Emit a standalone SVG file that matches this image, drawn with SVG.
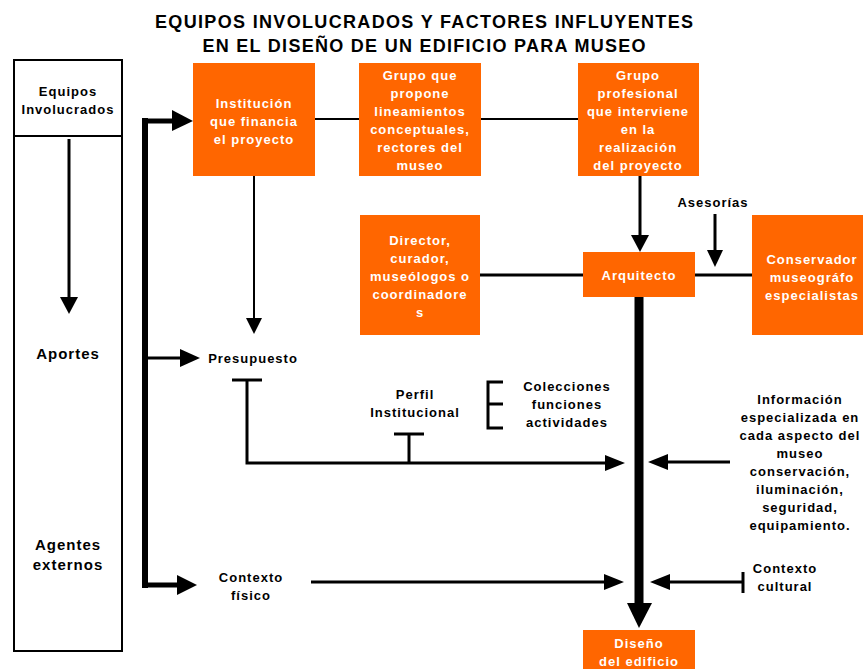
<svg xmlns="http://www.w3.org/2000/svg" width="863" height="669" viewBox="0 0 863 669">
<style>
.t{font-family:"Liberation Sans",Arial,sans-serif;font-weight:bold;font-size:13px;letter-spacing:1px;text-anchor:middle;fill:#000}
.big{font-size:15px}
.w{fill:#fff}
.title{font-family:"Liberation Sans",Arial,sans-serif;font-weight:bold;font-size:18px;text-anchor:middle;fill:#000}
.box{fill:#ff6600}
.ln{stroke:#000;fill:none}
.ah{fill:#000}
</style>
<rect width="863" height="669" fill="#fff"/>
<g id="title">
<text class="title" x="424" y="28" textLength="538" lengthAdjust="spacing">EQUIPOS INVOLUCRADOS Y FACTORES INFLUYENTES</text>
<text class="title" x="424" y="52" textLength="443" lengthAdjust="spacing">EN EL DISEÑO DE UN EDIFICIO PARA MUSEO</text>
</g>
<g id="left-panel">
<rect x="14" y="60" width="108" height="591" fill="#fff" stroke="#000" stroke-width="2"/>
<line x1="14" y1="136" x2="122" y2="136" stroke="#000" stroke-width="2"/>
<text class="t" x="68" y="96">Equipos</text>
<text class="t" x="68" y="114">Involucrados</text>
<text class="t big" x="68" y="359">Aportes</text>
<text class="t big" x="68" y="550">Agentes</text>
<text class="t big" x="68" y="570">externos</text>
</g>
<g id="connectors">
<line class="ln" x1="69" y1="139" x2="69" y2="298" stroke-width="3"/>
<polygon class="ah" points="60,297 78,297 69,314"/>
<line class="ln" x1="145" y1="118" x2="145" y2="588" stroke-width="6"/>
<line class="ln" x1="142" y1="121" x2="174" y2="121" stroke-width="5"/>
<polygon class="ah" points="172,110 193,121 172,131"/>
<line class="ln" x1="145" y1="358" x2="182" y2="358" stroke-width="3"/>
<polygon class="ah" points="180,349 200,358 180,367"/>
<line class="ln" x1="142" y1="585" x2="179" y2="585" stroke-width="5"/>
<polygon class="ah" points="177,575 197,585 177,595"/>
<line class="ln" x1="315" y1="119" x2="359" y2="119" stroke-width="2"/>
<line class="ln" x1="481" y1="119" x2="578" y2="119" stroke-width="2"/>
<line class="ln" x1="254" y1="176" x2="254" y2="320" stroke-width="2"/>
<polygon class="ah" points="246,318 262,318 254,334"/>
<line class="ln" x1="640" y1="176" x2="640" y2="237" stroke-width="3"/>
<polygon class="ah" points="631,235 649,235 640,252"/>
<line class="ln" x1="715" y1="214" x2="715" y2="252" stroke-width="3"/>
<polygon class="ah" points="707,250 723,250 715,267"/>
<line class="ln" x1="480" y1="275" x2="583" y2="275" stroke-width="3"/>
<line class="ln" x1="695" y1="275" x2="752" y2="275" stroke-width="3"/>
<line class="ln" x1="639" y1="297" x2="639" y2="605" stroke-width="9"/>
<polygon class="ah" points="627,603 652,603 639,628"/>
<line class="ln" x1="232" y1="380" x2="262" y2="380" stroke-width="3"/>
<polyline class="ln" points="247,380 247,463 608,463" stroke-width="3"/>
<polygon class="ah" points="605,455 625,463 605,471"/>
<line class="ln" x1="394" y1="434" x2="424" y2="434" stroke-width="3"/>
<line class="ln" x1="409" y1="434" x2="409" y2="463" stroke-width="3"/>
<polyline class="ln" points="503,382 488,382 488,428 503,428" stroke-width="3"/>
<line class="ln" x1="488" y1="404" x2="503" y2="404" stroke-width="3"/>
<line class="ln" x1="730" y1="462" x2="665" y2="462" stroke-width="3"/>
<polygon class="ah" points="668,454 648,462 668,470"/>
<line class="ln" x1="311" y1="582" x2="607" y2="582" stroke-width="3"/>
<polygon class="ah" points="604,574 624,582 604,590"/>
<line class="ln" x1="743" y1="582" x2="667" y2="582" stroke-width="3"/>
<line class="ln" x1="743" y1="572" x2="743" y2="593" stroke-width="3"/>
<polygon class="ah" points="670,574 650,582 670,590"/>
</g>
<g id="institucion">
<rect class="box" x="193" y="63" width="122" height="113"/>
<text class="t w" x="254" y="108">Institución</text>
<text class="t w" x="254" y="126">que financia</text>
<text class="t w" x="254" y="144">el proyecto</text>
</g>
<g id="grupo-lineamientos">
<rect class="box" x="359" y="63" width="122" height="113"/>
<text class="t w" x="420" y="80">Grupo que</text>
<text class="t w" x="420" y="98">propone</text>
<text class="t w" x="420" y="116">lineamientos</text>
<text class="t w" x="420" y="134">conceptuales,</text>
<text class="t w" x="420" y="152">rectores del</text>
<text class="t w" x="420" y="170">museo</text>
</g>
<g id="grupo-profesional">
<rect class="box" x="578" y="63" width="121" height="113"/>
<text class="t w" x="638" y="80">Grupo</text>
<text class="t w" x="638" y="98">profesional</text>
<text class="t w" x="638" y="116">que interviene</text>
<text class="t w" x="638" y="134">en la</text>
<text class="t w" x="638" y="152">realización</text>
<text class="t w" x="638" y="170">del proyecto</text>
</g>
<g id="director">
<rect class="box" x="360" y="215" width="120" height="120"/>
<text class="t w" x="420" y="245">Director,</text>
<text class="t w" x="420" y="263">curador,</text>
<text class="t w" x="420" y="281">museólogos o</text>
<text class="t w" x="420" y="299">coordinadore</text>
<text class="t w" x="420" y="317">s</text>
</g>
<g id="arquitecto">
<rect class="box" x="583" y="252" width="112" height="45"/>
<text class="t w" x="639" y="280">Arquitecto</text>
</g>
<g id="conservador">
<rect class="box" x="752" y="215" width="111" height="120"/>
<text class="t w" x="812" y="264">Conservador</text>
<text class="t w" x="812" y="282">museográfo</text>
<text class="t w" x="812" y="300">especialistas</text>
</g>
<g id="asesorias">
<text class="t" x="713" y="207">Asesorías</text>
</g>
<g id="presupuesto">
<text class="t" x="253" y="363">Presupuesto</text>
</g>
<g id="perfil">
<text class="t" x="415" y="399">Perfil</text>
<text class="t" x="415" y="417">Institucional</text>
</g>
<g id="colecciones">
<text class="t" x="567" y="391">Colecciones</text>
<text class="t" x="567" y="409">funciones</text>
<text class="t" x="567" y="427">actividades</text>
</g>
<g id="informacion">
<text class="t" x="800" y="404">Información</text>
<text class="t" x="800" y="422">especializada en</text>
<text class="t" x="800" y="440">cada aspecto del</text>
<text class="t" x="800" y="458">museo</text>
<text class="t" x="800" y="476">conservación,</text>
<text class="t" x="800" y="494">iluminación,</text>
<text class="t" x="800" y="512">seguridad,</text>
<text class="t" x="800" y="530">equipamiento.</text>
</g>
<g id="contexto-fisico">
<text class="t" x="251" y="582">Contexto</text>
<text class="t" x="251" y="600">físico</text>
</g>
<g id="contexto-cultural">
<text class="t" x="785" y="573">Contexto</text>
<text class="t" x="785" y="591">cultural</text>
</g>
<g id="diseno">
<rect class="box" x="583" y="630" width="112" height="39"/>
<text class="t w" x="639" y="648">Diseño</text>
<text class="t w" x="639" y="666">del edificio</text>
</g>
</svg>
